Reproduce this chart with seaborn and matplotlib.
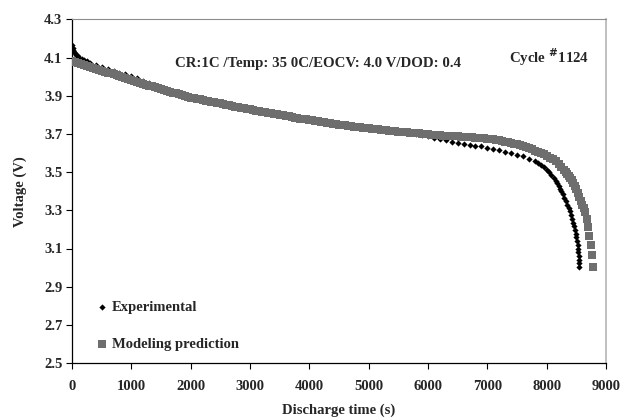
import numpy as np
import pandas as pd
import matplotlib
matplotlib.use("Agg")
import matplotlib.pyplot as plt
import seaborn as sns

# Experimental discharge curve (time in s, voltage in V)
exp_time = [0, 10, 20, 35, 50, 70, 95, 125, 160, 200, 250, 300, 400, 500, 600, 700, 800, 900,
            1000, 1100, 1200, 1300, 1400, 1500, 1600, 1700, 1800, 1900, 2000, 2100, 2200, 2300,
            2400, 2500, 2600, 2700, 2800, 2900, 3000, 3100, 3200, 3300, 3400, 3500, 3600, 3700,
            3800, 3900, 4000, 4100, 4200, 4300, 4400, 4500, 4600, 4700, 4800, 4900, 5000, 5100,
            5200, 5300, 5400, 5500, 5600, 5700, 5800, 5900, 6000, 6100, 6200, 6300, 6400, 6500,
            6600, 6700, 6800, 6900, 7000, 7100, 7200, 7300, 7400, 7500, 7600, 7700, 7800, 7850,
            7900, 7950, 8000, 8040, 8080, 8120, 8150, 8175, 8200, 8225, 8250, 8275, 8300, 8325,
            8350, 8370, 8390, 8410, 8430, 8450, 8465, 8478, 8490, 8500, 8510, 8520, 8528, 8535,
            8540, 8545, 8548, 8550]
exp_volt = [4.165, 4.152, 4.142, 4.132, 4.124, 4.116, 4.108, 4.100, 4.093, 4.087, 4.080, 4.073,
            4.060, 4.049, 4.039, 4.030, 4.022, 4.013, 4.003, 3.992, 3.980, 3.968, 3.955, 3.942,
            3.930, 3.919, 3.908, 3.898, 3.890, 3.884, 3.878, 3.871, 3.865, 3.859, 3.852, 3.846,
            3.840, 3.834, 3.828, 3.822, 3.815, 3.810, 3.804, 3.799, 3.793, 3.788, 3.782, 3.777,
            3.772, 3.767, 3.762, 3.757, 3.752, 3.748, 3.744, 3.740, 3.736, 3.732, 3.728, 3.725,
            3.721, 3.718, 3.715, 3.712, 3.709, 3.705, 3.700, 3.694, 3.688, 3.681, 3.674, 3.666,
            3.658, 3.652, 3.647, 3.643, 3.639, 3.635, 3.629, 3.622, 3.615, 3.608, 3.600, 3.592,
            3.583, 3.571, 3.556, 3.547, 3.536, 3.525, 3.512, 3.500, 3.486, 3.470, 3.456, 3.443,
            3.430, 3.414, 3.400, 3.384, 3.367, 3.350, 3.330, 3.313, 3.295, 3.276, 3.256, 3.234,
            3.216, 3.197, 3.178, 3.160, 3.140, 3.120, 3.100, 3.080, 3.060, 3.040, 3.022, 3.005]

# Model prediction
mod_time = [0, 50, 100, 150, 200, 250, 300, 350, 400, 450, 500, 550, 600, 650, 700, 750, 800, 850, 900, 950,
            1000, 1050, 1100, 1150, 1200, 1250, 1300, 1350, 1400, 1450, 1500, 1550, 1600, 1650, 1700, 1750, 1800, 1850, 1900, 1950,
            2000, 2050, 2100, 2150, 2200, 2250, 2300, 2350, 2400, 2450, 2500, 2550, 2600, 2650, 2700, 2750, 2800, 2850, 2900, 2950,
            3000, 3050, 3100, 3150, 3200, 3250, 3300, 3350, 3400, 3450, 3500, 3550, 3600, 3650, 3700, 3750, 3800, 3850, 3900, 3950,
            4000, 4050, 4100, 4150, 4200, 4250, 4300, 4350, 4400, 4450, 4500, 4550, 4600, 4650, 4700, 4750, 4800, 4850, 4900, 4950,
            5000, 5050, 5100, 5150, 5200, 5250, 5300, 5350, 5400, 5450, 5500, 5550, 5600, 5650, 5700, 5750, 5800, 5850, 5900, 5950,
            6000, 6050, 6100, 6150, 6200, 6250, 6300, 6350, 6400, 6450, 6500, 6550, 6600, 6650, 6700, 6750, 6800, 6850, 6900, 6950,
            7000, 7050, 7100, 7150, 7200, 7250, 7300, 7350, 7400, 7450, 7500, 7550, 7600, 7650, 7700, 7750, 7800, 7850, 7900, 7950,
            8000, 8050, 8100, 8150, 8200, 8250, 8300,
            8325, 8350, 8375, 8400, 8425, 8450, 8475, 8500, 8525, 8550, 8575, 8600, 8622, 8647, 8675, 8692, 8714, 8742, 8759, 8786]
mod_volt = [4.084, 4.079, 4.074, 4.068, 4.063, 4.058, 4.053, 4.048, 4.043, 4.037, 4.032, 4.027, 4.022, 4.017, 4.012, 4.007, 4.002, 3.997, 3.992, 3.987,
            3.982, 3.978, 3.973, 3.968, 3.963, 3.958, 3.953, 3.949, 3.944, 3.940, 3.935, 3.931, 3.926, 3.922, 3.917, 3.913, 3.908, 3.904, 3.899, 3.895,
            3.891, 3.888, 3.885, 3.882, 3.879, 3.875, 3.872, 3.869, 3.866, 3.863, 3.860, 3.856, 3.853, 3.850, 3.847, 3.844, 3.841, 3.838, 3.835, 3.832,
            3.829, 3.826, 3.823, 3.819, 3.816, 3.814, 3.811, 3.808, 3.805, 3.803, 3.800, 3.797, 3.794, 3.792, 3.789, 3.786, 3.783, 3.781, 3.778, 3.776,
            3.773, 3.771, 3.768, 3.766, 3.763, 3.761, 3.758, 3.756, 3.753, 3.751, 3.749, 3.747, 3.745, 3.743, 3.741, 3.739, 3.737, 3.735, 3.733, 3.731,
            3.729, 3.728, 3.726, 3.724, 3.722, 3.721, 3.719, 3.718, 3.716, 3.715, 3.713, 3.712, 3.710, 3.709, 3.707, 3.706, 3.704, 3.703, 3.701, 3.700,
            3.698, 3.697, 3.696, 3.695, 3.693, 3.692, 3.691, 3.690, 3.689, 3.688, 3.687, 3.686, 3.685, 3.684, 3.683, 3.682, 3.681, 3.680, 3.679, 3.678,
            3.676, 3.674, 3.672, 3.669, 3.666, 3.663, 3.660, 3.657, 3.653, 3.649, 3.645, 3.641, 3.636, 3.631, 3.625, 3.619, 3.613, 3.607, 3.600, 3.593,
            3.585, 3.576, 3.567, 3.556, 3.543, 3.528, 3.512,
            3.502, 3.492, 3.481, 3.470, 3.457, 3.443, 3.427, 3.410, 3.391, 3.370, 3.347, 3.330, 3.312, 3.293, 3.255, 3.214, 3.166, 3.118, 3.066, 3.005]

x_ticks = [0, 1000, 2000, 3000, 4000, 5000, 6000, 7000, 8000, 9000]
y_ticks = [2.5, 2.7, 2.9, 3.1, 3.3, 3.5, 3.7, 3.9, 4.1, 4.3]

exp_df = pd.DataFrame({"t": exp_time, "v": exp_volt})
mod_df = pd.DataFrame({"t": mod_time, "v": mod_volt})

sns.set_style("ticks")
plt.rcParams["font.family"] = ["Liberation Serif", "DejaVu Serif"]
plt.rcParams["font.weight"] = "bold"

fig = plt.figure(figsize=(6.23, 4.2), dpi=100)
ax = fig.add_axes([0.1156, 0.1357, 0.8571, 0.8179])

sns.scatterplot(data=exp_df, x="t", y="v", ax=ax, marker="D", color="black", s=10,
                linewidth=0, label="Experimental", zorder=2)
sns.scatterplot(data=mod_df, x="t", y="v", ax=ax, marker="s", color="#6e6e6e", s=28,
                linewidth=0, label="Modeling prediction", zorder=3)

ax.set_xlim(0, 9000)
ax.set_ylim(2.5, 4.3)
ax.set_xticks(x_ticks)
ax.set_yticks(y_ticks)
ax.set_yticklabels([f"{v:.1f}" for v in y_ticks])
ax.tick_params(axis="both", direction="out", length=4, width=0.8, color="black",
               labelsize=10.5)
ax.tick_params(axis="x", pad=8)
ax.tick_params(axis="y", pad=3)
for lab in ax.get_xticklabels() + ax.get_yticklabels():
    lab.set_fontweight("bold")

for side in ["left", "bottom"]:
    ax.spines[side].set_color("black")
    ax.spines[side].set_linewidth(0.9)
ax.spines["top"].set_color("#8c8c8c")
ax.spines["right"].set_color("#b5b5b5")
ax.spines["right"].set_linewidth(1.2)

ax.set_xlabel("Discharge time (s)", fontsize=10.5, fontweight="bold", labelpad=8)
ax.set_ylabel("Voltage (V)", fontsize=10.5, fontweight="bold", labelpad=12)

ax.text(0.461, 0.873, "CR:1C /Temp: 35 0C/EOCV: 4.0 V/DOD: 0.4", transform=ax.transAxes,
        ha="center", va="center", fontsize=10.7, fontweight="bold")
ax.text(0.894, 0.89, "Cycle $^{\\#}$1124", transform=ax.transAxes,
        ha="center", va="center", fontsize=10.7, fontweight="bold")

leg = ax.legend(loc="lower left", bbox_to_anchor=(0.017, -0.002), frameon=False,
                handletextpad=0.2, labelspacing=1.6, handlelength=1.0, markerscale=1.0,
                prop={"weight": "bold", "size": 10.5})

fig.savefig("out.png", dpi=100)
